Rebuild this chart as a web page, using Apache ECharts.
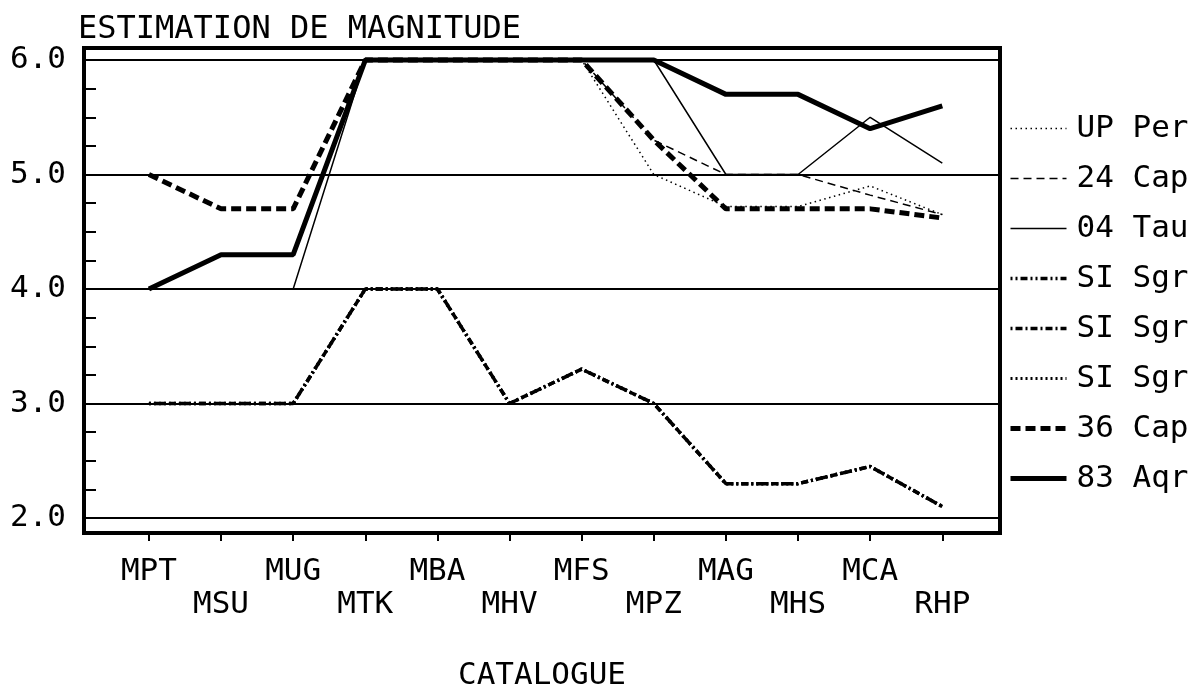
<!DOCTYPE html>
<html>
<head>
<meta charset="utf-8">
<script src="https://cdn.jsdelivr.net/npm/echarts@6/dist/echarts.min.js"></script>
<style>
  html, body { margin: 0; padding: 0; background: #fff; }
  #chart { width: 1200px; height: 688px; }
</style>
</head>
<body>
<div id="chart"></div>
<script>
// catalogues on the x axis, magnitudes per series
const categories = ['MPT', 'MSU', 'MUG', 'MTK', 'MBA', 'MHV', 'MFS', 'MPZ', 'MAG', 'MHS', 'MCA', 'RHP'];
const seriesNames = ['UP Per', '24 Cap', '04 Tau', 'SI Sgr 1', 'SI Sgr 2', 'SI Sgr 3', '36 Cap', '83 Aqr'];

const upPer  = [null, null, null, 6.0, 6.0, 6.0, 6.0, 5.0, 4.72, 4.72, 4.9, 4.65];
const cap24  = [null, null, null, 6.0, 6.0, 6.0, 6.0, 5.3, 5.0, 5.0, 4.82, 4.65];
const tau04  = [null, null, 4.0, 6.0, 6.0, 6.0, 6.0, 6.0, 5.0, 5.0, 5.5, 5.1];
const siSgr1 = [3.0, 3.0, 3.0, 4.0, 4.0, 3.0, 3.3, 3.0, 2.3, 2.3, 2.45, 2.1];
const siSgr2 = [3.0, 3.0, 3.0, 4.0, 4.0, 3.0, 3.3, 3.0, 2.3, 2.3, 2.45, 2.1];
const siSgr3 = [3.0, 3.0, 3.0, 4.0, 4.0, 3.0, 3.3, 3.0, 2.3, 2.3, 2.45, 2.1];
const cap36  = [5.0, 4.7, 4.7, 6.0, 6.0, 6.0, 6.0, 5.3, 4.7, 4.7, 4.7, 4.62];
const aqr83  = [4.0, 4.3, 4.3, 6.0, 6.0, 6.0, 6.0, 6.0, 5.7, 5.7, 5.4, 5.6];

const yLabels = [2, 3, 4, 5, 6];
const yTicks = [2, 2.25, 2.5, 2.75, 3, 3.25, 3.5, 3.75, 4, 4.25, 4.5, 4.75, 5, 5.25, 5.5, 5.75, 6];

const allValues = [upPer, cap24, tau04, siSgr1, siSgr2, siSgr3, cap36, aqr83];

// line look per series (width, dash)
const lineLooks = [
  { width: 1.5, type: [1.5, 3.5] },
  { width: 1.5, type: [8, 5] },
  { width: 1.5, type: 'solid' },
  { width: 3.5, type: [2, 3, 2, 3, 7, 3] },
  { width: 3.5, type: [2, 3, 7, 3] },
  { width: 3, type: [2, 3] },
  { width: 5, type: [10, 5] },
  { width: 5, type: 'solid' },
];

const FONT = 'DejaVu Sans Mono';

const chart = echarts.init(document.getElementById('chart'));

const series = seriesNames.map((name, i) => ({
  name: name,
  type: 'line',
  data: allValues[i].map((v, j) => [j, v]),
  symbol: 'none',
  connectNulls: false,
  z: 3 + i,
  itemStyle: { color: '#000' },
  lineStyle: { color: '#000', width: lineLooks[i].width, type: lineLooks[i].type },
}));

// horizontal grid lines at whole magnitudes
series.push({
  type: 'line',
  data: [],
  silent: true,
  z: 2,
  markLine: {
    silent: true,
    symbol: 'none',
    animation: false,
    label: { show: false },
    lineStyle: { color: '#000', width: 2, type: 'solid' },
    data: yLabels.map(v => ({ yAxis: v })),
  },
});

chart.setOption({
  backgroundColor: '#fff',
  animation: false,
  title: {
    text: 'ESTIMATION DE MAGNITUDE',
    left: 78, top: 14, padding: 0,
    textStyle: { fontFamily: FONT, fontSize: 32, fontWeight: 'normal', color: '#000' },
  },
  legend: {
    orient: 'vertical',
    left: 1008, top: 113, padding: 0,
    itemWidth: 56, itemHeight: 14, itemGap: 19,
    formatter: name => name.replace(/ \d$/, ''),
    textStyle: { fontFamily: FONT, fontSize: 31, color: '#000', lineHeight: 30, padding: [0, 0, 0, 5] },
    data: seriesNames.map((name, i) => ({
      name: name,
      itemStyle: { opacity: 0 },
      lineStyle: { color: '#000', width: lineLooks[i].width, type: lineLooks[i].type },
    })),
  },
  grid: {
    left: 84, right: 200, top: 48, bottom: 155,
    outerBoundsMode: 'none',
    containLabel: false,
    show: true, borderColor: '#000', borderWidth: 4, backgroundColor: 'transparent',
  },
  xAxis: {
    type: 'value',
    min: -0.9, max: 11.8,
    name: 'CATALOGUE',
    nameLocation: 'middle',
    nameGap: 127,
    nameTextStyle: { fontFamily: FONT, fontSize: 31, color: '#000' },
    axisLine: { show: false, onZero: false },
    splitLine: { show: false },
    axisTick: {
      show: true, inside: false, length: 8,
      customValues: categories.map((c, i) => i),
      lineStyle: { color: '#000', width: 2 },
    },
    axisLabel: {
      customValues: categories.map((c, i) => i),
      margin: 22,
      fontFamily: FONT, fontSize: 31, color: '#000', lineHeight: 33,
      formatter: v => (v % 2 ? '\n' : '') + categories[v],
    },
  },
  yAxis: {
    type: 'value',
    min: 1.869, max: 6.105,
    axisLine: { show: false, onZero: false },
    splitLine: { show: false },
    axisTick: {
      show: true, inside: true, length: 12,
      customValues: yTicks,
      lineStyle: { color: '#000', width: 2 },
    },
    axisLabel: {
      customValues: yLabels,
      margin: 18,
      fontFamily: FONT, fontSize: 31, color: '#000',
      formatter: v => v.toFixed(1),
    },
  },
  series: series,
});
</script>
</body>
</html>
